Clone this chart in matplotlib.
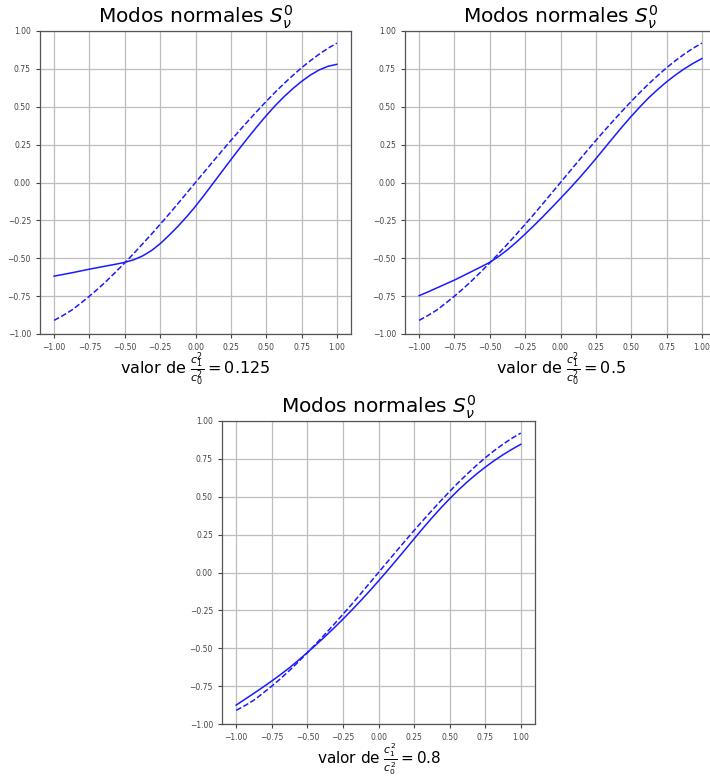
import numpy as np
import matplotlib
matplotlib.use('Agg')
from matplotlib import pyplot as plt

# x positions (step 1/16)
x = [-1.0, -0.9375, -0.875, -0.8125, -0.75, -0.6875, -0.625, -0.5625, -0.5,
     -0.4375, -0.375, -0.3125, -0.25, -0.1875, -0.125, -0.0625, 0.0,
     0.0625, 0.125, 0.1875, 0.25, 0.3125, 0.375, 0.4375, 0.5,
     0.5625, 0.625, 0.6875, 0.75, 0.8125, 0.875, 0.9375, 1.0]

# dashed reference mode (same in all three panels)
ref_mode = [-0.910, -0.878, -0.842, -0.797, -0.750, -0.700, -0.646, -0.589, -0.530,
            -0.469, -0.406, -0.342, -0.276, -0.209, -0.140, -0.070, 0.0,
            0.070, 0.140, 0.209, 0.277, 0.344, 0.409, 0.473, 0.535,
            0.595, 0.652, 0.706, 0.757, 0.804, 0.847, 0.886, 0.920]

# solid modes, one per ratio c1^2/c0^2
ratios = ['0.125', '0.5', '0.8']
mode_0125 = [-0.618, -0.607, -0.596, -0.584, -0.572, -0.561, -0.550, -0.539, -0.527,
             -0.510, -0.485, -0.450, -0.404, -0.349, -0.290, -0.226, -0.157,
             -0.082, -0.005, 0.073, 0.150, 0.226, 0.300, 0.372, 0.441,
             0.506, 0.565, 0.619, 0.667, 0.709, 0.743, 0.767, 0.780]
mode_05 = [-0.747, -0.722, -0.696, -0.670, -0.644, -0.615, -0.586, -0.557, -0.527,
           -0.488, -0.444, -0.394, -0.340, -0.284, -0.226, -0.166, -0.105,
           -0.043, 0.021, 0.088, 0.157, 0.228, 0.299, 0.369, 0.436,
           0.500, 0.560, 0.614, 0.664, 0.709, 0.750, 0.786, 0.818]
mode_08 = [-0.875, -0.836, -0.797, -0.757, -0.716, -0.673, -0.628, -0.579, -0.528,
           -0.476, -0.422, -0.366, -0.308, -0.248, -0.186, -0.122, -0.056,
           0.012, 0.081, 0.151, 0.222, 0.292, 0.360, 0.425, 0.487,
           0.545, 0.599, 0.649, 0.695, 0.738, 0.777, 0.813, 0.846]
modes = [mode_0125, mode_05, mode_08]

ticks = [-1.0, -0.75, -0.5, -0.25, 0.0, 0.25, 0.5, 0.75, 1.0]

fig = plt.figure(figsize=(7.1, 7.8), dpi=100)
W, H = 710, 780
boxes = [(40, 31, 311, 303), (405, 31, 311, 303), (222, 421, 313, 303)]
pads = [-1, -1, -0.5]
label_sizes = [11.5, 11.5, 11]

for (l, t, w, h), r, m, pad, fs in zip(boxes, ratios, modes, pads, label_sizes):
    ax = fig.add_axes([l / W, 1 - (t + h) / H, w / W, h / H])
    ax.plot(x, m, color='#1a1aff', lw=1.1)
    ax.plot(x, ref_mode, color='#1a1aff', lw=1.1, ls='--')
    ax.set_xlim(-1.1, 1.1)
    ax.set_ylim(-1, 1)
    ax.set_xticks(ticks)
    ax.set_yticks(ticks)
    ax.grid(True, color='#bdbdbd', lw=0.9)
    ax.tick_params(labelsize=5.5, colors='#444444', length=3, width=0.8)
    for s in ax.spines.values():
        s.set_color('#555555')
        s.set_linewidth(0.9)
    ax.set_title(r'Modos normales $S_\nu^0$', fontsize=14.5, pad=2)
    ax.set_xlabel(r'valor de $\frac{c_1^2}{c_0^2} = %s$' % r, fontsize=fs, labelpad=pad)

fig.savefig('out.png', dpi=100)
